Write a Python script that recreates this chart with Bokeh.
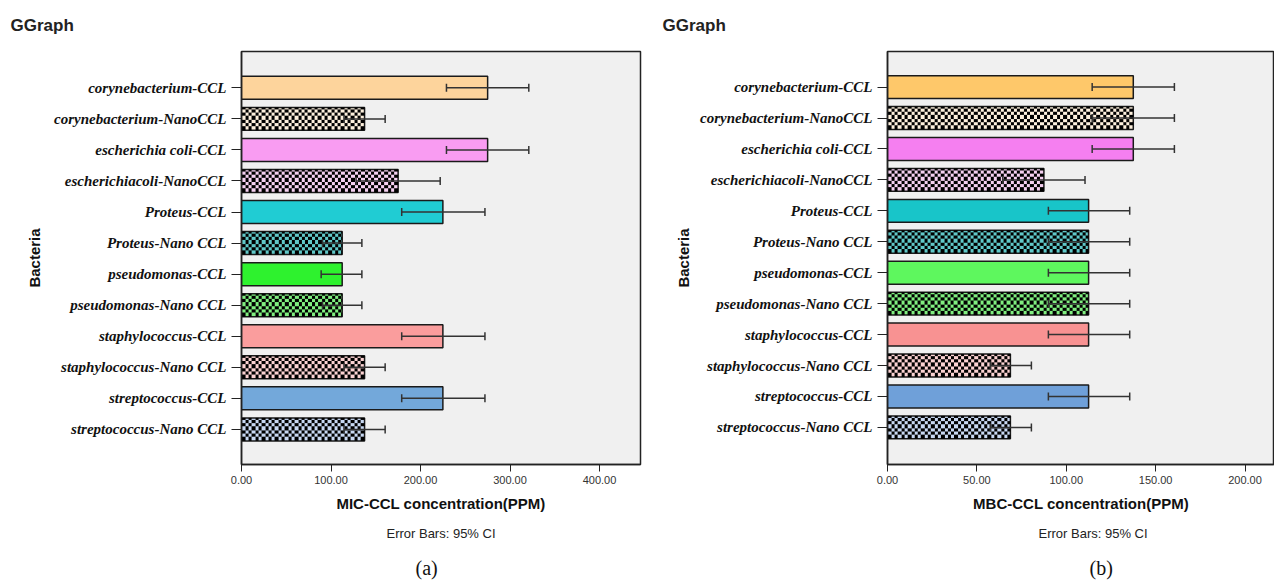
import numpy as np
from bokeh.plotting import figure
from bokeh.models import (Range1d, FixedTicker, NumeralTickFormatter, Whisker,
                          ColumnDataSource, Title, TeeHead)
from bokeh.layouts import row
from bokeh.embed import file_html
from bokeh.resources import INLINE

categories = ["corynebacterium-CCL", "corynebacterium-NanoCCL", "escherichia coli-CCL",
              "escherichiacoli-NanoCCL", "Proteus-CCL", "Proteus-Nano CCL",
              "pseudomonas-CCL", "pseudomonas-Nano CCL", "staphylococcus-CCL",
              "staphylococcus-Nano CCL", "streptococcus-CCL", "streptococcus-Nano CCL"]
kinds = ["CCL", "Nano", "CCL", "Nano", "CCL", "Nano", "CCL", "Nano", "CCL", "Nano", "CCL", "Nano"]

mic_mean = [275, 137.5, 275, 175, 225, 112.5, 112.5, 112.5, 225, 137.5, 225, 137.5]
mic_lower = [229, 114.5, 229, 128, 179, 90.5, 89, 90.5, 179, 114.5, 179, 114.5]
mic_upper = [321, 160.5, 321, 222, 272, 134.5, 134.5, 134.5, 272, 160.5, 272, 160.5]

mbc_mean = [137.5, 137.5, 137.5, 87.5, 112.5, 112.5, 112.5, 112.5, 112.5, 68.75, 112.5, 68.75]
mbc_lower = [114.5, 114.5, 114.5, 64.5, 90, 90, 90, 90, 90, 57.5, 90, 57.5]
mbc_upper = [160.5, 160.5, 160.5, 110.5, 135.5, 135.5, 135.5, 135.5, 135.5, 80.5, 135.5, 80.5]

mic_colors = ["#fdd49c", "#fdf0dd", "#f99cf2", "#f4d0f0", "#20ccd3", "#60c8c8",
              "#2ef22e", "#80ef80", "#fa9d9d", "#fbd2d2", "#73a8da", "#c8d8f2"]
mbc_colors = ["#fec86a", "#fdf0dd", "#f57ff0", "#f4d0f0", "#18c5c9", "#60c8c8",
              "#5ef75e", "#80ef80", "#f89292", "#fbd2d2", "#6fa0d9", "#c8d8f2"]

mic_ticks = [0, 100, 200, 300, 400]
mbc_ticks = [0, 50, 100, 150, 200]

FIG_H = 583
TOP_B = 51
BOTTOM_B = 117
BAR_H = 0.74
CELL = 3.3


def checker(rows, cols):
    r = np.arange(rows)[:, None]
    c = np.arange(cols)[None, :]
    on = ((np.floor(r / CELL) + np.floor(c / CELL)) % 2) == 0
    img = np.zeros((rows, cols), dtype=np.uint32)
    view = img.view(dtype=np.uint8).reshape((rows, cols, 4))
    view[:, :, 3] = np.where(on, 255, 0)
    return img


def make_panel(means, lowers, uppers, colors, x_end, xticks, xlabel, tag, width,
               left_b, right_b, ypad, opts):
    n = len(categories)
    frame_w = width - left_b - right_b
    frame_h = FIG_H - TOP_B - BOTTOM_B
    y_lo, y_hi = -ypad[1], n - 1 + ypad[0]
    px_x = frame_w / x_end
    px_y = frame_h / (y_hi - y_lo)

    p = figure(width=width, height=FIG_H, output_backend="svg", toolbar_location=None,
               title=None, min_border_left=left_b, min_border_right=right_b,
               min_border_top=TOP_B, min_border_bottom=BOTTOM_B,
               x_range=Range1d(0, x_end), y_range=Range1d(y_lo, y_hi))
    p.background_fill_color = "#f0f0f0"
    p.border_fill_color = "white"
    p.outline_line_color = "#222222"
    p.outline_line_width = 1.5
    p.xgrid.visible = False
    p.ygrid.visible = False

    ypos = [n - 1 - i for i in range(n)]

    for kind in ["CCL", "Nano"]:
        idx = [i for i, k in enumerate(kinds) if k == kind]
        src = ColumnDataSource(dict(
            y=[ypos[i] for i in idx],
            mean=[means[i] for i in idx],
            lower=[lowers[i] for i in idx],
            upper=[uppers[i] for i in idx],
            color=[colors[i] for i in idx],
        ))
        p.hbar(y="y", left=0, right="mean", height=BAR_H, source=src,
               fill_color="color", line_color="#1a1a1a", line_width=1.5)
        if kind == "Nano":
            imgs = [checker(int(round(BAR_H * px_y)), int(round(means[i] * px_x))) for i in idx]
            isrc = ColumnDataSource(dict(
                image=imgs,
                x=[0] * len(idx),
                y=[ypos[i] - BAR_H / 2 for i in idx],
                dw=[means[i] for i in idx],
                dh=[BAR_H] * len(idx),
            ))
            p.image_rgba(image="image", x="x", y="y", dw="dw", dh="dh", source=isrc)
        w = Whisker(base="y", lower="lower", upper="upper", dimension="width",
                    source=src, line_color="#333333", line_width=1.5, level="annotation",
                    upper_head=TeeHead(size=8, line_color="#333333", line_width=1.5),
                    lower_head=TeeHead(size=8, line_color="#333333", line_width=1.5))
        p.add_layout(w)

    xa = p.xaxis[0]
    xa.ticker = FixedTicker(ticks=xticks)
    xa.formatter = NumeralTickFormatter(format="0.00")
    xa.major_tick_out = 7
    xa.major_tick_in = 0
    xa.minor_tick_out = 0
    xa.minor_tick_in = 0
    xa.axis_line_color = "#222222"
    xa.axis_line_width = 1.5
    xa.major_tick_line_color = "#222222"
    xa.major_label_text_font = "Liberation Sans"
    xa.major_label_text_font_size = "11px"
    xa.major_label_text_color = "#333333"
    xa.major_label_standoff = 4
    xa.axis_label = xlabel
    xa.axis_label_text_font = "Liberation Sans"
    xa.axis_label_text_font_style = "bold"
    xa.axis_label_text_font_size = "15px"
    xa.axis_label_text_color = "#111111"
    xa.axis_label_standoff = 8

    ya = p.yaxis[0]
    ya.ticker = FixedTicker(ticks=ypos)
    ya.major_label_overrides = {ypos[i]: c for i, c in enumerate(categories)}
    ya.major_tick_out = 10
    ya.major_tick_in = 0
    ya.minor_tick_out = 0
    ya.minor_tick_in = 0
    ya.axis_line_color = "#222222"
    ya.axis_line_width = 1.5
    ya.major_tick_line_color = "#222222"
    ya.major_label_text_font = "Liberation Serif"
    ya.major_label_text_font_style = "bold italic"
    ya.major_label_text_font_size = "15px"
    ya.major_label_text_color = "#111111"
    ya.major_label_standoff = 5
    ya.axis_label = "Bacteria"
    ya.axis_label_text_font = "Liberation Sans"
    ya.axis_label_text_font_style = "bold"
    ya.axis_label_text_font_size = "15px"
    ya.axis_label_text_color = "#111111"
    ya.axis_label_standoff = opts["ylab"]

    p.add_layout(Title(text="GGraph", align="left", offset=opts["gg"], vertical_align="top",
                       text_font="Liberation Sans", text_font_style="bold",
                       text_font_size="17px", text_color="#222222", standoff=30), "above")
    p.add_layout(Title(text="Error Bars: 95% CI", align=opts["eb_align"], offset=opts["eb"],
                       vertical_align="top",
                       text_font="Liberation Sans", text_font_style="normal",
                       text_font_size="13px", text_color="#222222", standoff=22), "below")
    p.add_layout(Title(text=tag, align="left", offset=opts["tag"], vertical_align="top",
                       text_font="Liberation Serif", text_font_style="normal",
                       text_font_size="20px", text_color="#111111", standoff=6), "below")
    return p


p1 = make_panel(mic_mean, mic_lower, mic_upper, mic_colors, 445.8, mic_ticks,
                "MIC-CCL concentration(PPM)", "(a)", 650, 241, 10, (1.17, 1.13),
                {"ylab": 8, "gg": -231, "eb_align": "center", "eb": 0, "tag": 174})
p2 = make_panel(mbc_mean, mbc_lower, mbc_upper, mbc_colors, 216.5, mbc_ticks,
                "MBC-CCL concentration(PPM)", "(b)", 624, 237, 0, (1.15, 1.2),
                {"ylab": 5, "gg": -225, "eb_align": "left", "eb": 151, "tag": 202})

layout = row(p1, p2)
open("out.html", "w").write(file_html(layout, INLINE))
